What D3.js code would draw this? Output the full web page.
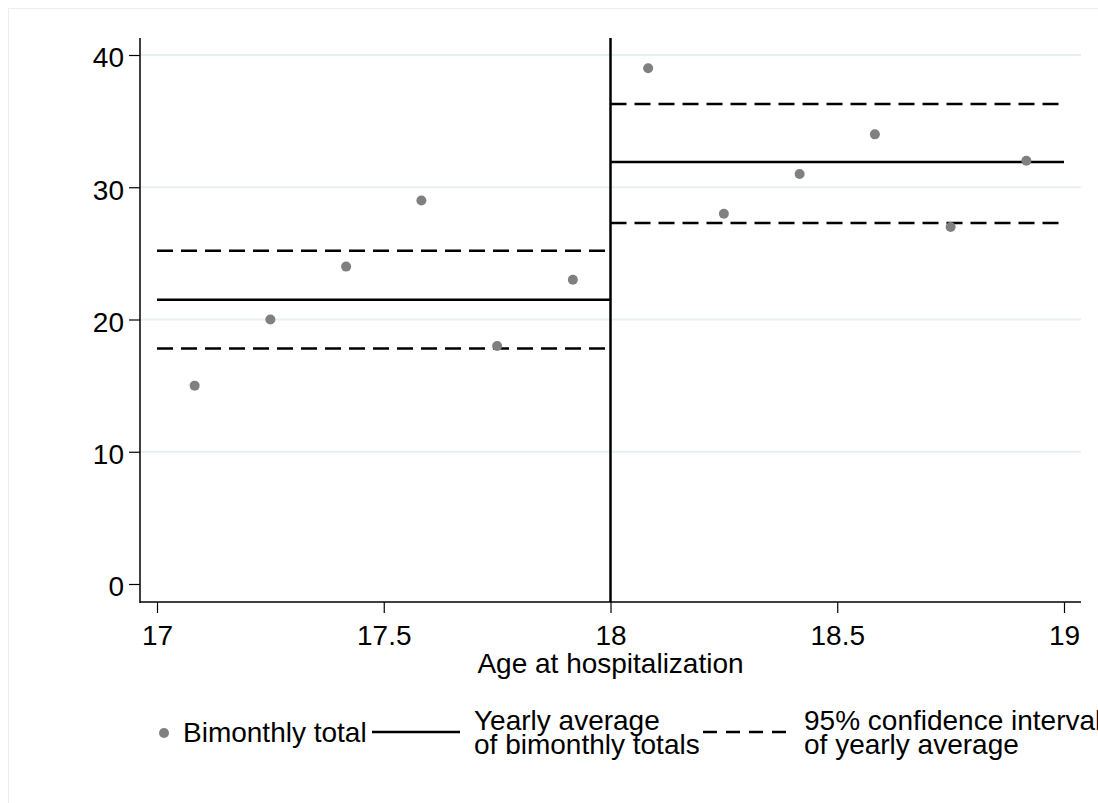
<!DOCTYPE html>
<html>
<head>
<meta charset="utf-8">
<script src="https://cdn.jsdelivr.net/npm/d3@7"></script>
<style>
  body { margin: 0; background: #fff; }
  svg text { font-family: "Liberation Sans", Arial, sans-serif; fill: #000; }
</style>
</head>
<body>
<svg id="chart" width="1098" height="803"></svg>
<script>
// bimonthly totals by age
const ages = [17.083, 17.25, 17.417, 17.583, 17.75, 17.917,
              18.083, 18.25, 18.417, 18.583, 18.75, 18.917];
const totals = [15, 20, 24, 29, 18, 23, 39, 28, 31, 34, 27, 32];

// yearly averages and 95% CI
const periods = [[17, 18], [18, 19]];
const yearlyAvg = [21.5, 31.9];
const ciLow = [17.8, 27.3];
const ciHigh = [25.2, 36.3];

const xTicks = [17, 17.5, 18, 18.5, 19];
const yTicks = [0, 10, 20, 30, 40];

const svg = d3.select("#chart");
const fontSize = 28;

// faint outer frame
svg.append("rect")
  .attr("x", 8.5).attr("y", 8.5)
  .attr("width", 1200).attr("height", 1000)
  .attr("fill", "none")
  .attr("stroke", "#eeeeee");

const xScale = d3.scaleLinear().domain([17, 19]).range([157, 1064]);
const yScale = d3.scaleLinear().domain([0, 40]).range([584, 55]);

const plotLeft = 140, plotBottom = 602, plotRight = 1081, plotTop = 38;

// grid lines
svg.append("g")
  .selectAll("line")
  .data(yTicks.filter(d => d > 0))
  .join("line")
    .attr("x1", plotLeft).attr("x2", plotRight)
    .attr("y1", d => yScale(d)).attr("y2", d => yScale(d))
    .attr("stroke", "#e6f0f2")
    .attr("stroke-width", 2);

// y axis
const yAxis = svg.append("g")
  .attr("transform", `translate(${plotLeft},0)`)
  .call(d3.axisLeft(yScale).tickValues(yTicks).tickSize(11).tickPadding(5).tickSizeOuter(0));
yAxis.select(".domain").remove();
yAxis.append("line")
  .attr("x1", 0).attr("x2", 0).attr("y1", plotTop).attr("y2", plotBottom + 1)
  .attr("stroke", "#000").attr("stroke-width", 1.5);

// x axis
const xAxis = svg.append("g")
  .attr("transform", `translate(0,${plotBottom})`)
  .call(d3.axisBottom(xScale).tickValues(xTicks).tickFormat(d3.format("")).tickSize(11).tickPadding(12).tickSizeOuter(0));
xAxis.select(".domain").remove();
xAxis.append("line")
  .attr("x1", plotLeft).attr("x2", plotRight).attr("y1", 0).attr("y2", 0)
  .attr("stroke", "#000").attr("stroke-width", 1.5);

svg.selectAll(".tick line").attr("stroke", "#000").attr("stroke-width", 1.2);
svg.selectAll(".tick text")
  .style("font-size", fontSize + "px")
  .style("font-family", '"Liberation Sans", Arial, sans-serif');
yAxis.selectAll(".tick text").attr("dy", "0.42em");

svg.append("text")
  .attr("x", xScale(18)).attr("y", 673)
  .attr("text-anchor", "middle")
  .style("font-size", fontSize + "px")
  .text("Age at hospitalization");

// cutoff line at 18
svg.append("line")
  .attr("x1", xScale(18)).attr("x2", xScale(18))
  .attr("y1", plotTop).attr("y2", plotBottom)
  .attr("stroke", "#000").attr("stroke-width", 2.5);

// averages and CIs
const seg = svg.append("g");
periods.forEach((p, i) => {
  seg.append("line")
    .attr("x1", xScale(p[0])).attr("x2", xScale(p[1]))
    .attr("y1", yScale(yearlyAvg[i])).attr("y2", yScale(yearlyAvg[i]))
    .attr("stroke", "#000").attr("stroke-width", 2.5);
  [ciLow[i], ciHigh[i]].forEach(v => {
    seg.append("line")
      .attr("x1", xScale(p[0])).attr("x2", xScale(p[1]))
      .attr("y1", yScale(v)).attr("y2", yScale(v))
      .attr("stroke", "#000").attr("stroke-width", 2.5)
      .attr("stroke-dasharray", "16 8");
  });
});

// points
svg.append("g")
  .selectAll("circle")
  .data(ages.map((a, i) => ({ age: a, total: totals[i] })))
  .join("circle")
    .attr("cx", d => xScale(d.age))
    .attr("cy", d => yScale(d.total))
    .attr("r", 5)
    .attr("fill", "#808080");

// legend
const legend = svg.append("g").style("font-size", fontSize + "px");
legend.append("circle").attr("cx", 164).attr("cy", 733).attr("r", 5).attr("fill", "#808080");
legend.append("text").attr("x", 183).attr("y", 742).text("Bimonthly total");

legend.append("line").attr("x1", 372).attr("x2", 460).attr("y1", 732).attr("y2", 732)
  .attr("stroke", "#000").attr("stroke-width", 2.5);
legend.append("text").attr("x", 474).attr("y", 730).text("Yearly average");
legend.append("text").attr("x", 474).attr("y", 754).text("of bimonthly totals");

legend.append("line").attr("x1", 703).attr("x2", 786).attr("y1", 732).attr("y2", 732)
  .attr("stroke", "#000").attr("stroke-width", 2.5).attr("stroke-dasharray", "14 9");
legend.append("text").attr("x", 804).attr("y", 730).text("95% confidence interval");
legend.append("text").attr("x", 804).attr("y", 754).text("of yearly average");
</script>
</body>
</html>
